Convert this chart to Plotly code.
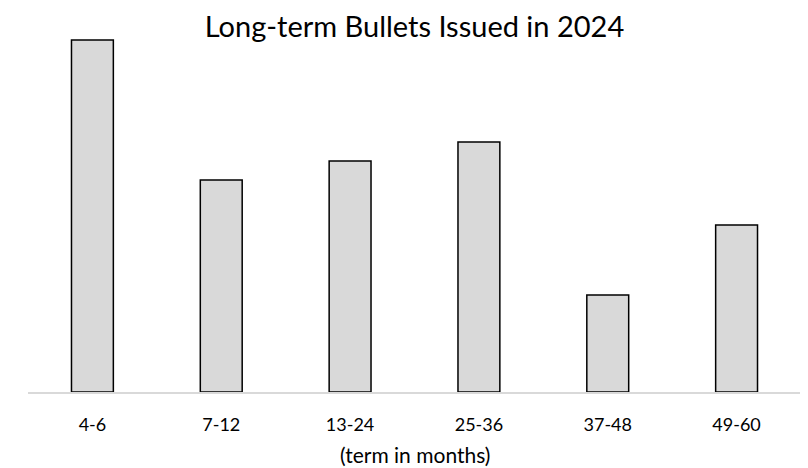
import plotly.graph_objects as go

categories = ["4-6", "7-12", "13-24", "25-36", "37-48", "49-60"]
bullets = [35.2, 21.2, 23.1, 25.0, 9.7, 16.7]

# the page body has an 8px margin, so the figure is sized/offset to compensate
fig = go.Figure()

fig.add_trace(
    go.Bar(
        x=categories,
        y=bullets,
        marker=dict(color="#d9d9d9", line=dict(color="#000000", width=1.5)),
    )
)

fig.update_layout(
    width=800,
    height=460,
    paper_bgcolor="white",
    plot_bgcolor="white",
    margin=dict(l=20, r=7, t=22, b=76),
    bargap=0.675,
    showlegend=False,
    font=dict(family="Lato, Calibri, sans-serif", color="#000000"),
    title=dict(
        text="Long-term Bullets Issued in 2024",
        font=dict(size=29, color="#000000"),
        x=0.5,
        xref="paper",
        xanchor="center",
        y=1 - 19 / 460,
        yanchor="middle",
        yref="container",
    ),
    xaxis=dict(
        showgrid=False,
        showline=True,
        linecolor="#d9d9d9",
        linewidth=1.5,
        ticks="",
        automargin=False,
        ticklabelstandoff=16,
        tickfont=dict(size=18),
    ),
    yaxis=dict(
        range=[0, 36.2],
        visible=False,
        showgrid=False,
        zeroline=False,
    ),
)

fig.add_annotation(
    text="(term in months)",
    xref="paper",
    yref="paper",
    x=0.5,
    y=0,
    xanchor="center",
    yanchor="middle",
    yshift=-62,
    showarrow=False,
    font=dict(size=21, color="#000000"),
)

fig.write_html("out.html")
